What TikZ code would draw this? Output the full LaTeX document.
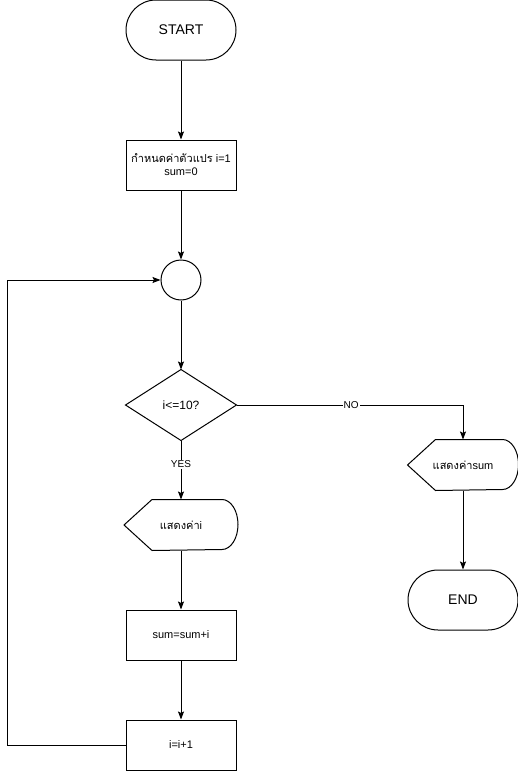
\documentclass[tikz,border=0pt]{standalone}
\usepackage{fontspec}
\setmainfont{Liberation Sans}
\newfontfamily\thaifont[Script=Thai]{Loma}
\usetikzlibrary{arrows.meta}
\begin{document}
\begin{tikzpicture}[x=1pt,y=-1pt,
  line width=1pt,
  every node/.style={font=\fontsize{11}{13}\selectfont, align=center, inner sep=0pt},
  term/.style={draw, rounded corners=30pt, minimum width=110pt, minimum height=60pt, font=\fontsize{14}{16}\selectfont},
  proc/.style={draw, minimum width=110pt, minimum height=50pt},
  anchorbox/.style={minimum width=#1, minimum height=50pt},
  conn/.style={draw, circle, minimum size=40pt},
  arr/.style={-{Stealth[length=8pt,width=6pt,inset=1.5pt]}},
  lbl/.style={fill=white, inner sep=1pt, font=\fontsize{10}{12}\selectfont}
]
\useasboundingbox (0,0) rectangle (518,771);
% nodes
\node[term] (start) at (181,30) {START};
\node[proc] (init) at (181,165) {{\thaifont กำหนดค่าตัวแปร} i=1\\sum=0};
\node[conn] (circ) at (181,280) {};
\node[minimum width=110pt, minimum height=70pt] (dec) at (181,405) {\fontsize{12}{14}\selectfont i<=10?};
\draw (dec.west) -- (dec.north) -- (dec.east) -- (dec.south) -- cycle;
\node[anchorbox=113pt] (disp1) at (181,525) {{\thaifont แสดงค่า}i};
\draw (disp1.west) -- ([xshift=28pt]disp1.north west) -- ([xshift=-16pt]disp1.north east)
  arc[start angle=90, end angle=-90, x radius=16pt, y radius=25pt]
  -- ([xshift=28pt]disp1.south west) -- cycle;
\node[proc] (sum) at (181,635) {sum=sum+i};
\node[proc] (inc) at (181,745) {i=i+1};
\node[anchorbox=110pt] (disp2) at (463,465) {{\thaifont แสดงค่า}sum};
\draw (disp2.west) -- ([xshift=28pt]disp2.north west) -- ([xshift=-16pt]disp2.north east)
  arc[start angle=90, end angle=-90, x radius=16pt, y radius=25pt]
  -- ([xshift=28pt]disp2.south west) -- cycle;
\node[term] (end) at (463,600) {END};
% connectors
\draw[arr] (start) -- (init);
\draw[arr] (init) -- (circ);
\draw[arr] (circ) -- (dec.north);
\draw[arr] (dec.south) -- node[lbl, pos=0.4] {YES} (disp1.north);
\draw[arr] (disp1.south) -- (sum.north);
\draw[arr] (sum) -- (inc);
\draw[arr] (inc.west) -- ++(-118,0) |- (circ.west);
\draw[arr] (dec.east) -| node[lbl, pos=0.253] {NO} (disp2.north);
\draw[arr] (disp2.south) -- (end.north);
\end{tikzpicture}
\end{document}
